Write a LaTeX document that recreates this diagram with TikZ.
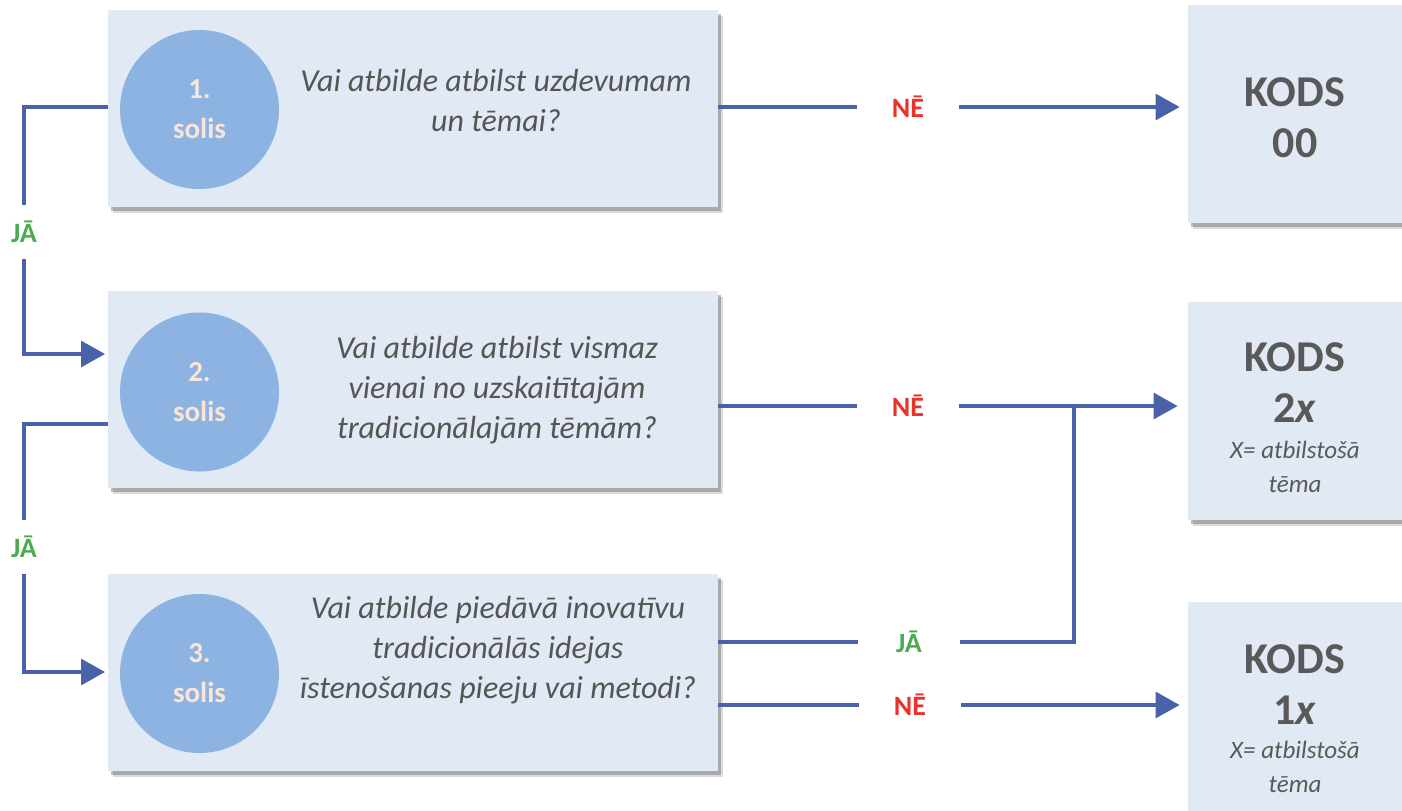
\documentclass[tikz,border=0pt]{standalone}
\usepackage{fontspec}
\setmainfont{Carlito}
\usetikzlibrary{arrows.meta,shadows}

\definecolor{boxblue}{HTML}{E1E9F4}
\definecolor{dotblue}{HTML}{8DB3E2}
\definecolor{dotpeach}{HTML}{FBE5D6}
\definecolor{flowblue}{HTML}{4A62A9}
\definecolor{yesgreen}{HTML}{4AAB4F}
\definecolor{nored}{HTML}{E8322A}
\definecolor{textgray}{HTML}{555555}
\definecolor{codegray}{HTML}{595959}

\tikzset{
  boxshadow/.style={
    drop shadow={shadow xshift=2.5pt, shadow yshift=-3pt, opacity=0.2, fill=black!70},
    drop shadow={shadow xshift=1.5pt, shadow yshift=-2pt, opacity=0.35, fill=black!70}},
  stepbox/.style={rectangle, fill=boxblue, minimum width=305pt,
    minimum height=98.5pt, boxshadow},
  codebox/.style={rectangle, fill=boxblue, minimum width=107pt,
    minimum height=109pt, boxshadow},
  stepdot/.style={circle, fill=dotblue, minimum size=79.5pt, inner sep=0pt,
    text=dotpeach, align=center, font=\bfseries\fontsize{14.5}{20}\selectfont},
  question/.style={text=textgray, align=center,
    font=\itshape\fontsize{16}{20}\selectfont},
  codetext/.style={text=codegray, align=center,
    font=\bfseries\fontsize{22}{25.5}\selectfont},
  codenote/.style={text=codegray, align=center,
    font=\itshape\fontsize{12.5}{17}\selectfont},
  gap/.style={minimum width=51pt, inner sep=0pt,
    font=\bfseries\fontsize{14}{17}\selectfont},
  sidegap/.style={minimum height=27pt, inner sep=0pt, text=yesgreen,
    font=\bfseries\fontsize{14}{17}\selectfont},
  flow/.style={draw=flowblue, line width=1.6pt},
  tip/.style={flow, -{Triangle[length=12pt,width=13pt]}}
}

\begin{document}
\begin{tikzpicture}[x=0.5pt, y=-0.5pt]
  \useasboundingbox (0,0) rectangle (1402,810);

  % steps
  \node[stepbox] (s1) at (413,108.5) {};
  \node[stepbox] (s2) at (413,389.5) {};
  \node[stepbox] (s3) at (413,672.5) {};

  \node[stepdot] (c1) at (199.5,109.5) {1.\\solis};
  \node[stepdot] (c2) at (199.5,392) {2.\\solis};
  \node[stepdot] (c3) at (199.5,673.5) {3.\\solis};

  \node[question] (q1) at (496,101) {Vai atbilde atbilst uzdevumam\\un tēmai?};
  \node[question] (q2) at (497,390) {Vai atbilde atbilst vismaz\\vienai no uzskaitītajām\\tradicionālajām tēmām?};
  \node[question] (q3) at (498,650) {Vai atbilde piedāvā inovatīvu\\tradicionālās idejas\\īstenošanas pieeju vai metodi?};

  % codes
  \node[codebox] (k1) at (1295,114) {};
  \node[codebox] (k2) at (1295,411) {};
  \node[codebox] (k3) at (1295,711) {};

  \node[codetext] (kt1) at (1295,117.5) {KODS\\00};
  \node[codetext] (kt2) at (1295,382.5) {KODS\\2\textit{x}};
  \node[codenote] (kn2) at (1295,467) {X= atbilstošā\\tēma};
  \node[codetext] (kt3) at (1295,684.5) {KODS\\1\textit{x}};
  \node[codenote] (kn3) at (1295,766.5) {X= atbilstošā\\tēma};

  % answers
  \node[gap, text=nored] (no1) at (908,107) {NĒ};
  \node[gap, text=nored] (no2) at (908,406) {NĒ};
  \node[gap, text=yesgreen] (ja3) at (909,642) {JĀ};
  \node[gap, text=nored] (no3) at (910,705) {NĒ};
  \node[sidegap] (ja1) at (24,232) {JĀ};
  \node[sidegap] (ja2) at (24,547) {JĀ};

  \coordinate (out1) at (108,107);
  \coordinate (in2) at (105,354);
  \coordinate (out2) at (108,424);
  \coordinate (in3) at (105,672);
  \coordinate (merge) at (1074,406);

  % connectors
  \draw[flow] (out1) -| (ja1);
  \draw[tip] (ja1) |- (in2);
  \draw[flow] (out2) -| (ja2);
  \draw[tip] (ja2) |- (in3);

  \draw[flow] (s1.east |- no1) -- (no1);
  \draw[tip, shorten >=4pt] (no1) -- (no1 -| k1.west);
  \draw[flow] (s2.east |- no2) -- (no2);
  \draw[tip, shorten >=5pt] (no2) -- (no2 -| k2.west);
  \draw[flow] (s3.east |- ja3) -- (ja3);
  \draw[flow] (ja3) -| (merge);
  \draw[flow] (s3.east |- no3) -- (no3);
  \draw[tip, shorten >=4pt] (no3) -- (no3 -| k3.west);
\end{tikzpicture}
\end{document}
